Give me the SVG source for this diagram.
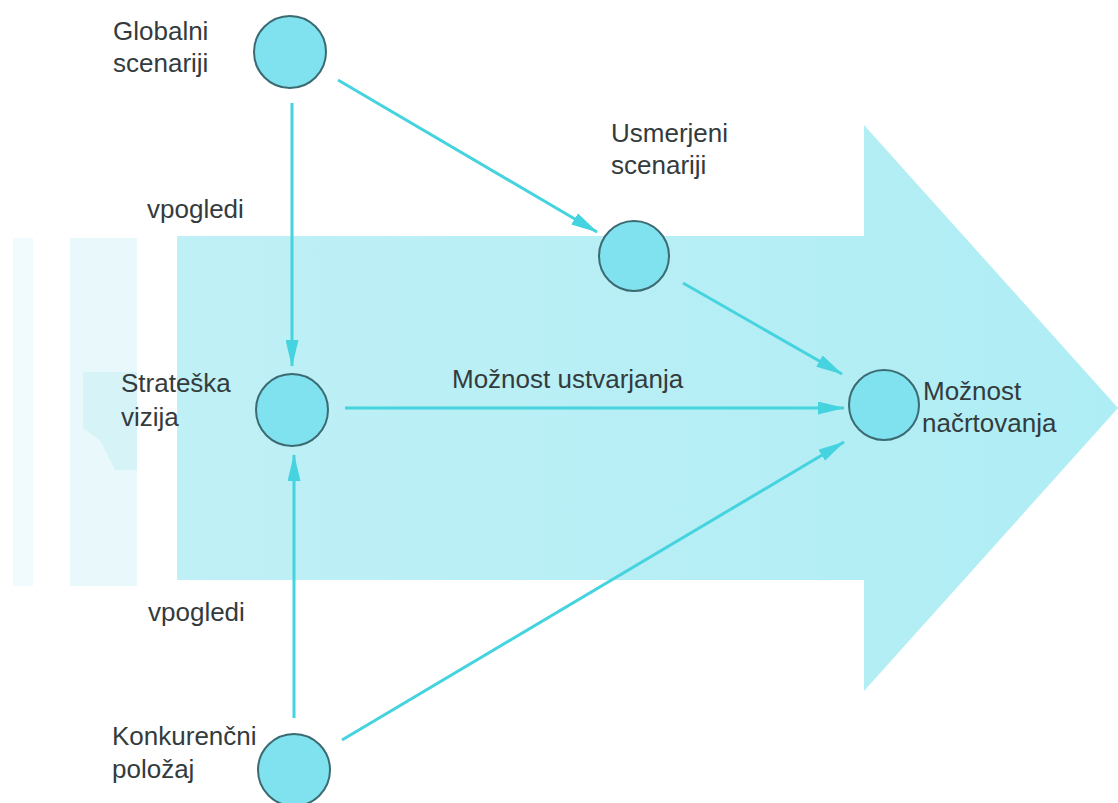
<svg xmlns="http://www.w3.org/2000/svg" width="1118" height="803" viewBox="0 0 1118 803">
<defs>
<linearGradient id="bodyGrad" x1="0" y1="0" x2="1" y2="0">
<stop offset="0" stop-color="#bff0f6"/>
<stop offset="1" stop-color="#afedf4"/>
</linearGradient>
<marker id="ah" markerUnits="userSpaceOnUse" markerWidth="27" markerHeight="13" refX="26" refY="6.5" orient="auto">
<path d="M0,0 L27,6.5 L0,13 z" fill="#45d3df"/>
</marker>
<style>
.lbl{font-family:"Liberation Sans",Arial,sans-serif;font-size:26px;fill:#333b3d}
.node{fill:#7fe2ee;stroke:#3b6a72;stroke-width:2}
.conn{stroke:#45d3df;stroke-width:3;fill:none;marker-end:url(#ah)}
</style>
</defs>
<rect width="1118" height="803" fill="#ffffff"/>
<g id="background">
<rect x="13" y="238" width="20" height="348" fill="#f1fafc"/>
<rect x="70" y="238" width="67" height="348" fill="#e8f8fb"/>
<path d="M83,372 L137,372 L137,470 L115,470 L100,440 L83,428 z" fill="#d6f4f8"/>
<path d="M177,236 L864,236 L864,125 L1118,408 L864,691 L864,580 L177,580 z" fill="url(#bodyGrad)"/>
</g>
<g id="connectors">
<line class="conn" x1="292" y1="103" x2="292" y2="366"/>
<line class="conn" x1="338" y1="80" x2="597" y2="232"/>
<line class="conn" x1="683" y1="283" x2="842" y2="374"/>
<line class="conn" x1="345" y1="408" x2="844" y2="408"/>
<line class="conn" x1="342" y1="740" x2="844" y2="442"/>
<line class="conn" x1="294" y1="718" x2="294" y2="455"/>
</g>
<g id="node-globalni">
<circle class="node" cx="290" cy="52" r="36"/>
<text class="lbl" x="113" y="40">Globalni</text>
<text class="lbl" x="113" y="72">scenariji</text>
</g>
<g id="node-usmerjeni">
<circle class="node" cx="634" cy="256" r="35"/>
<text class="lbl" x="611" y="142">Usmerjeni</text>
<text class="lbl" x="611" y="174">scenariji</text>
</g>
<g id="node-strateska">
<circle class="node" cx="292" cy="410" r="36"/>
<text class="lbl" x="121" y="392">Strateška</text>
<text class="lbl" x="121" y="426">vizija</text>
</g>
<g id="node-konkurencni">
<circle class="node" cx="294" cy="770" r="36"/>
<text class="lbl" x="112" y="745">Konkurenčni</text>
<text class="lbl" x="112" y="778">položaj</text>
</g>
<g id="node-moznost">
<circle class="node" cx="884" cy="405" r="35"/>
<text class="lbl" x="923" y="400">Možnost</text>
<text class="lbl" x="922" y="432">načrtovanja</text>
</g>
<g id="labels">
<text class="lbl" x="147" y="218">vpogledi</text>
<text class="lbl" x="148" y="621">vpogledi</text>
<text class="lbl" x="452" y="388">Možnost ustvarjanja</text>
</g>
</svg>
